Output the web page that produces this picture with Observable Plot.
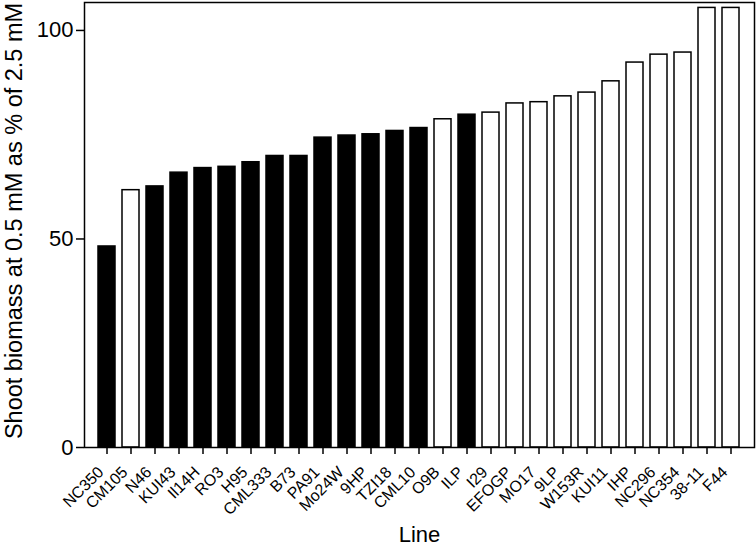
<!DOCTYPE html>
<html>
<head>
<meta charset="utf-8">
<script src="https://cdn.jsdelivr.net/npm/d3@7"></script>
<script src="https://cdn.jsdelivr.net/npm/@observablehq/plot@0.6"></script>
<style>
  html, body { margin: 0; padding: 0; background: #fff; }
  #chart { width: 756px; height: 546px; }
</style>
</head>
<body>
<div id="chart"></div>
<script>
const lines = ["NC350","CM105","N46","KUI43","Il14H","RO3","H95","CML333","B73","PA91","Mo24W","9HP","TZI18","CML10","O9B","ILP","I29","EFOGP","MO17","9LP","W153R","KUI11","IHP","NC296","NC354","38-11","F44"];
const biomass = [48.2,61.7,62.6,65.9,67.0,67.3,68.4,69.9,69.9,74.3,74.8,75.1,75.9,76.6,78.7,79.8,80.3,82.5,82.8,84.2,85.1,87.8,92.3,94.2,94.7,105.4,105.4];
const group = ["filled","open","filled","filled","filled","filled","filled","filled","filled","filled","filled","filled","filled","filled","open","filled","open","open","open","open","open","open","open","open","open","open","open"];
const yTicks = [0, 50, 100];
const yLabel = "Shoot biomass at 0.5 mM as % of 2.5 mM";
const xLabel = "Line";

const data = lines.map((d, i) => ({line: d, value: biomass[i], group: group[i]}));

const chart = Plot.plot({
  width: 756,
  height: 546,
  marginLeft: 84,
  marginRight: 2,
  marginTop: 2,
  marginBottom: 99,
  style: {fontFamily: "Liberation Sans, Arial, sans-serif", color: "#000", background: "#fff", overflow: "visible"},
  x: {domain: lines, paddingInner: 0.29, paddingOuter: 0.145, label: null},
  y: {domain: [0, 106.7], label: null},
  color: {domain: ["filled", "open"], range: ["#000", "#fff"]},
  marks: [
    Plot.barY(data, {x: "line", y: "value", fill: "group", stroke: "#000", strokeWidth: 1.5}),
    Plot.frame({stroke: "#000", strokeWidth: 1.5}),
    Plot.axisY({ticks: yTicks, tickSize: 8, tickPadding: 3, fontSize: 22, label: null, strokeWidth: 1.5}),
    Plot.axisX({tickSize: 7, strokeWidth: 1.5, label: null, text: null}),
    Plot.axisX({tickSize: 0, tickPadding: 22, tickRotate: -45, fontSize: 16, dx: -6, label: null}),
    Plot.text([yLabel], {frameAnchor: "left", textAnchor: "middle", rotate: -90, dx: -63, dy: -4, lineAnchor: "bottom", fontSize: 23.5, fill: "#000"}),
    Plot.text([xLabel], {frameAnchor: "bottom", dy: 94, lineAnchor: "bottom", fontSize: 22, fill: "#000"})
  ]
});
document.getElementById("chart").appendChild(chart);
</script>
</body>
</html>
